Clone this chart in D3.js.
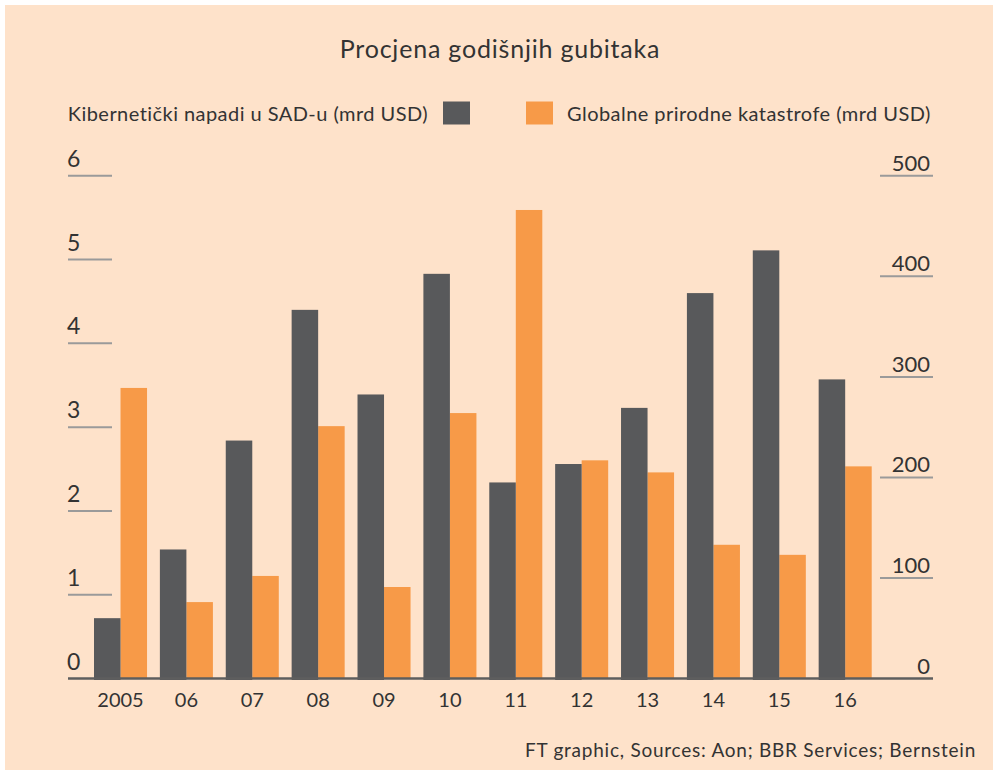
<!DOCTYPE html>
<html>
<head>
<meta charset="utf-8">
<script src="https://cdn.jsdelivr.net/npm/d3@7"></script>
<style>
  body { margin: 0; background: #fff; }
  text { font-family: Lato, "Open Sans", sans-serif; fill: #333; }
</style>
</head>
<body>
<div id="chart"></div>
<script>
var years = ["2005", "06", "07", "08", "09", "10", "11", "12", "13", "14", "15", "16"];
var cyber = [0.72, 1.54, 2.84, 4.40, 3.39, 4.83, 2.34, 2.56, 3.23, 4.60, 5.11, 3.57];
var natural = [289, 76, 102, 251, 91, 264, 466, 217, 205, 133, 123, 211];
var leftTicks = [0, 1, 2, 3, 4, 5, 6];
var rightTicks = [0, 100, 200, 300, 400, 500];

var width = 993, height = 770;
var dark = "#58595b", orange = "#f79a48";

var svg = d3.select("#chart").append("svg")
    .attr("width", width)
    .attr("height", height);

// background panel
svg.append("rect")
    .attr("x", 5).attr("y", 5)
    .attr("width", width - 5).attr("height", height - 5)
    .attr("fill", "#fee2ca");

var x = d3.scaleBand().domain(years).range([94, 871.7]).paddingInner(0.195).paddingOuter(0);
var sub = d3.scaleBand().domain(["cyber", "natural"]).range([0, x.bandwidth()]);
var yL = d3.scaleLinear().domain([0, 6]).range([678.5, 175.8]);
var yR = d3.scaleLinear().domain([0, 500]).range([678.5, 175.8]);

// title
svg.append("text")
    .attr("x", 500).attr("y", 58)
    .attr("text-anchor", "middle")
    .style("font-size", "25px")
    .style("letter-spacing", "0.8px")
    .text("Procjena godišnjih gubitaka");

// legend
svg.append("text")
    .attr("x", 428).attr("y", 121)
    .attr("text-anchor", "end")
    .style("font-size", "20px")
    .style("letter-spacing", "0.45px")
    .text("Kibernetički napadi u SAD-u (mrd USD)");
svg.append("rect")
    .attr("x", 443).attr("y", 101.5).attr("width", 27).attr("height", 23)
    .attr("fill", dark);
svg.append("rect")
    .attr("x", 526).attr("y", 101.5).attr("width", 27).attr("height", 23)
    .attr("fill", orange);
svg.append("text")
    .attr("x", 567).attr("y", 121)
    .style("font-size", "20px")
    .style("letter-spacing", "0.45px")
    .text("Globalne prirodne katastrofe (mrd USD)");

// left axis ticks
var lt = svg.append("g").selectAll("g").data(leftTicks).join("g")
    .attr("transform", function (d) { return "translate(0," + yL(d) + ")"; });
lt.filter(function (d) { return d > 0; }).append("line")
    .attr("x1", 68).attr("x2", 112)
    .attr("stroke", "#9a9a9a").attr("stroke-width", 2);
lt.append("text")
    .attr("x", 67).attr("y", -9)
    .style("font-size", "23px")
    .text(function (d) { return d; });

// right axis ticks
var rt = svg.append("g").selectAll("g").data(rightTicks).join("g")
    .attr("transform", function (d) { return "translate(0," + yR(d) + ")"; });
rt.filter(function (d) { return d > 0; }).append("line")
    .attr("x1", 880).attr("x2", 933)
    .attr("stroke", "#9a9a9a").attr("stroke-width", 2);
rt.append("text")
    .attr("x", 930).attr("y", -5)
    .attr("text-anchor", "end")
    .style("font-size", "22px")
    .text(function (d) { return d; });

// bars
var groups = svg.append("g").selectAll("g").data(years).join("g")
    .attr("transform", function (d) { return "translate(" + x(d) + ",0)"; });

groups.append("rect")
    .attr("x", sub("natural"))
    .attr("width", sub.bandwidth())
    .attr("y", function (d, i) { return yR(natural[i]); })
    .attr("height", function (d, i) { return yR(0) - yR(natural[i]); })
    .attr("fill", orange);

groups.append("rect")
    .attr("x", sub("cyber"))
    .attr("width", sub.bandwidth())
    .attr("y", function (d, i) { return yL(cyber[i]); })
    .attr("height", function (d, i) { return yL(0) - yL(cyber[i]) + 1.5; })
    .attr("fill", dark);

// baseline
svg.append("line")
    .attr("x1", 68).attr("x2", 933)
    .attr("y1", yL(0)).attr("y2", yL(0))
    .attr("stroke", "#5e5e5e").attr("stroke-width", 2.5);

// x labels
var xAxis = d3.axisBottom(x).tickSize(0).tickPadding(0);
var xg = svg.append("g")
    .attr("transform", "translate(0," + (yL(0) + 10) + ")")
    .call(xAxis);
xg.select(".domain").remove();
xg.selectAll("text")
    .attr("dy", "0.9em")
    .style("font-size", "20px")
    .style("fill", "#333");

// source
svg.append("text")
    .attr("x", 976).attr("y", 757)
    .attr("text-anchor", "end")
    .style("font-size", "19px")
    .style("letter-spacing", "0.75px")
    .text("FT graphic, Sources: Aon; BBR Services; Bernstein");
</script>
</body>
</html>
